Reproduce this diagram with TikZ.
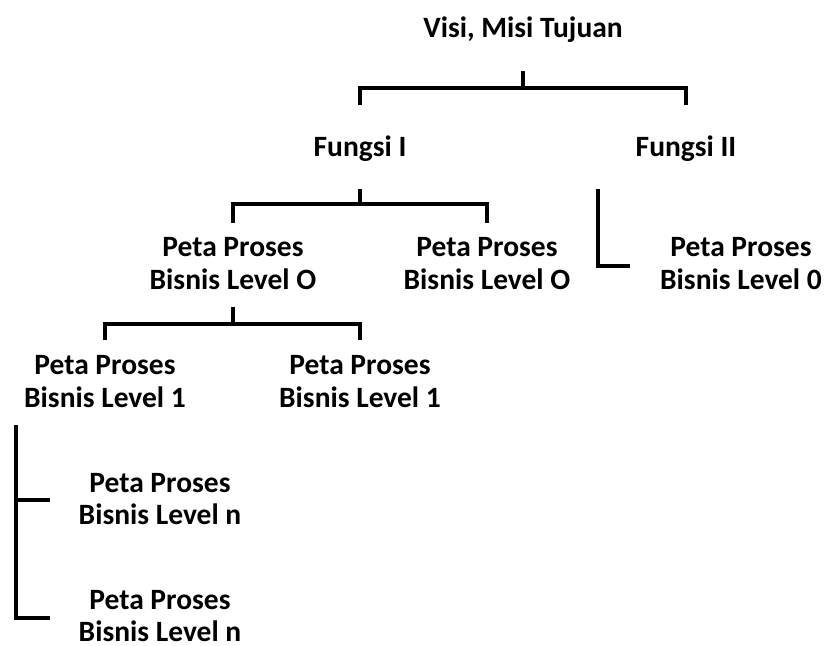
\documentclass[tikz,border=0pt]{standalone}
\usepackage{fontspec}
\setmainfont{Carlito}
\begin{document}
\begin{tikzpicture}[x=1pt,y=-1pt,
  lbl/.style={font=\fontsize{29.5}{32.5}\selectfont\bfseries, align=center, inner sep=0pt},
  conn/.style={line width=4pt, line join=miter, line cap=butt}]
\useasboundingbox (0,0) rectangle (826,645);
% nodes
\node[lbl, anchor=base] (top) at (523,37) {Visi, Misi Tujuan};
\node[lbl, anchor=base] (f1) at (360,156) {Fungsi I};
\node[lbl, anchor=base] (f2) at (686,156) {Fungsi II};
\node[lbl] (p0a) at (233,263.5) {Peta Proses\\Bisnis Level O};
\node[lbl] (p0b) at (487,263.5) {Peta Proses\\Bisnis Level O};
\node[lbl] (p0c) at (741,263.5) {Peta Proses\\Bisnis Level 0};
\node[lbl] (p1a) at (105,381.5) {Peta Proses\\Bisnis Level 1};
\node[lbl] (p1b) at (360,381.5) {Peta Proses\\Bisnis Level 1};
\node[lbl] (pna) at (160,499) {Peta Proses\\Bisnis Level n};
\node[lbl] (pnb) at (160,616) {Peta Proses\\Bisnis Level n};
% junction coordinates
\coordinate (a0) at (523,71);
\coordinate (a1) at (523,88);
\coordinate (a2) at (0,105);
\coordinate (b0) at (360,189);
\coordinate (b1) at (360,204);
\coordinate (b2) at (0,223);
\coordinate (c0) at (598,189);
\coordinate (c1) at (630,266);
\coordinate (d0) at (233,307);
\coordinate (d1) at (233,324);
\coordinate (d2) at (0,340);
\coordinate (e0) at (16,425);
\coordinate (e1) at (50,500);
\coordinate (e2) at (50,618);
% connectors
\draw[conn] (a0) -- (a1);
\draw[conn] (f1 |- a2) -- (f1 |- a1) -- (f2 |- a1) -- (f2 |- a2);
\draw[conn] (b0) -- (b1);
\draw[conn] (p0a |- b2) -- (p0a |- b1) -- (p0b |- b1) -- (p0b |- b2);
\draw[conn] (c0) |- (c1);
\draw[conn] (d0) -- (d1);
\draw[conn] (p1a |- d2) -- (p1a |- d1) -- (p1b |- d1) -- (p1b |- d2);
\draw[conn] (e0) |- (e2);
\draw[conn] (e0 |- e1) -- (e1);
\end{tikzpicture}
\end{document}
